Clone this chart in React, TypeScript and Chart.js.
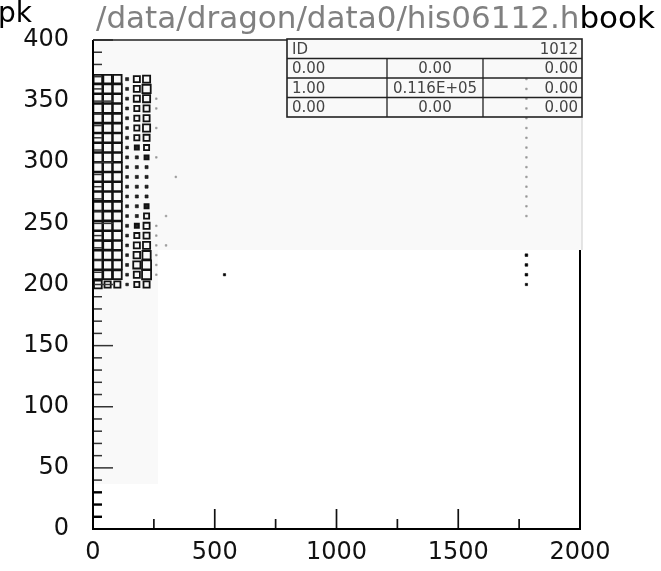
import React, { useEffect, useRef } from "react";
import { Chart, registerables } from "chart.js";

Chart.register(...registerables);

const FONT = '"DejaVu Sans", sans-serif';

// Histogram cells (x bin centres, y bin centres) and box contents
const rowCentersY = [368, 360, 352, 344, 336, 328, 320, 312, 304, 296, 288, 280, 272, 264, 256, 248, 240, 232, 224, 216, 208, 200];
const columnCentersX = [20, 60, 100, 140, 180, 220];
const col20 = [85, 95, 95, 95, 95, 95, 95, 95, 95, 95, 95, 95, 95, 95, 95, 95, 95, 95, 95, 95, 95, 70];
const col60 = [85, 95, 95, 95, 95, 95, 95, 95, 95, 95, 95, 95, 95, 95, 90, 95, 95, 90, 95, 95, 90, 45];
const col100 = [85, 95, 95, 95, 95, 95, 95, 95, 95, 95, 95, 95, 95, 95, 95, 95, 95, 95, 95, 95, 90, 45];
const col140 = [11, 10, 10, 10, 10, 9, 10, 9, 10, 9, 9, 10, 9, 10, 9, 10, 9, 9, 9, 10, 9, 8];
const col180 = [44, 44, 44, 31, 31, 31, 31, 20, 11, 11, 11, 11, 11, 11, 11, 20, 31, 44, 50, 60, 44, 31];
const col220 = [60, 80, 60, 44, 44, 60, 44, 31, 20, 11, 11, 11, 11, 20, 31, 44, 44, 60, 80, 95, 95, 44];
const columnContents = [col20, col60, col100, col140, col180, col220];

// sparse faint cells
const faintX = [260, 260, 260, 260, 260, 260, 260, 260, 260, 260, 300, 340, 300,
  1780, 1780, 1780, 1780, 1780, 1780, 1780, 1780, 1780, 1780, 1780, 1780, 1780, 1780, 1780];
const faintY = [352, 344, 328, 304, 248, 240, 232, 224, 216, 208, 256, 288, 232,
  368, 360, 352, 344, 336, 328, 320, 312, 304, 296, 288, 280, 272, 264, 256];
const faintC = [3, 3, 3, 3, 3, 3, 3, 3, 3, 3, 3, 3, 3,
  3, 3, 3, 3, 3, 3, 3, 3, 3, 3, 3, 3, 3, 3, 3];

// sparse dark cells
const darkX = [540, 1780, 1780, 1780, 1780];
const darkY = [208, 224, 216, 208, 200];
const darkC = [6, 8, 8, 8, 6];

const xMin = 0, xMax = 2000, xStep = 500, xMinorStep = 250;
const yMin = 0, yMax = 400, yStep = 50, yMinorStep = 10;
const binWidthX = 40;
const maxContent = 100;

const titleGray = "/data/dragon/data0/his06112.h";
const titleBlack = "book";
const cornerText = "pk";
const statsHeader = ["ID", "1012"];
const statsRows = [
  ["0.00", "0.00", "0.00"],
  ["1.00", "0.116E+05", "0.00"],
  ["0.00", "0.00", "0.00"],
];

function sideFor(ctx: any): number {
  const raw = ctx.raw;
  if (!raw) return 3;
  const xs = ctx.chart.scales.x;
  const cell = Math.abs(xs.getPixelForValue(binWidthX) - xs.getPixelForValue(0));
  return cell * 0.95 * Math.sqrt(raw.c / maxContent);
}

const framePlugin = {
  id: "frame",
  beforeDatasetsDraw(chart: any) {
    const { ctx, chartArea: a } = chart;
    ctx.save();
    ctx.fillStyle = "#f9f9f9";
    ctx.fillRect(a.left, a.top, a.right + 2 - a.left, 250 - a.top);
    ctx.fillRect(a.left, 250, 158 - a.left, 484 - 250);
    ctx.restore();
  },
  afterDatasetsDraw(chart: any) {
    const { ctx, chartArea: a, scales } = chart;
    const xs = scales.x, ys = scales.y;
    ctx.save();
    ctx.lineCap = "butt";
    // y ticks
    for (let v = yMin + yMinorStep; v <= yMax; v += yMinorStep) {
      const py = ys.getPixelForValue(v);
      const major = v % yStep === 0;
      ctx.lineWidth = v <= 30 ? 2.4 : 1.5;
      ctx.strokeStyle = v <= 30 ? "#000" : "#333";
      ctx.beginPath();
      ctx.moveTo(a.left, py);
      ctx.lineTo(a.left + (major ? 20 : 9), py);
      ctx.stroke();
    }
    // x ticks
    ctx.strokeStyle = "#111";
    ctx.lineWidth = 1.7;
    for (let v = xMin + xMinorStep; v < xMax; v += xMinorStep) {
      const px = xs.getPixelForValue(v);
      const major = v % xStep === 0;
      ctx.beginPath();
      ctx.moveTo(px, a.bottom);
      ctx.lineTo(px, a.bottom - (major ? 20 : 10));
      ctx.stroke();
    }
    // axes / frame
    ctx.strokeStyle = "#000";
    ctx.lineWidth = 2;
    ctx.beginPath();
    ctx.moveTo(a.left, a.top);
    ctx.lineTo(a.left, a.bottom);
    ctx.lineTo(a.right, a.bottom);
    ctx.lineTo(a.right, 250);
    ctx.stroke();
    ctx.lineWidth = 1.5;
    ctx.strokeStyle = "#222";
    ctx.beginPath();
    ctx.moveTo(a.left, a.top);
    ctx.lineTo(287, a.top);
    ctx.stroke();
    ctx.strokeStyle = "#ccc";
    ctx.lineWidth = 1;
    ctx.beginPath();
    ctx.moveTo(a.right + 2, 117);
    ctx.lineTo(a.right + 2, 250);
    ctx.stroke();

    // stats table
    const tL = 287, tR = 582, tT = a.top - 1;
    const rowH = 19.5;
    const tB = tT + rowH * 4;
    ctx.strokeStyle = "#222";
    ctx.lineWidth = 1.6;
    ctx.strokeRect(tL, tT, tR - tL, tB - tT);
    ctx.lineWidth = 1.3;
    for (let i = 1; i < 4; i++) {
      ctx.beginPath();
      ctx.moveTo(tL, tT + rowH * i);
      ctx.lineTo(tR, tT + rowH * i);
      ctx.stroke();
    }
    const c1 = 387, c2 = 483;
    ctx.beginPath();
    ctx.moveTo(c1, tT + rowH);
    ctx.lineTo(c1, tB);
    ctx.moveTo(c2, tT + rowH);
    ctx.lineTo(c2, tB);
    ctx.stroke();
    ctx.fillStyle = "#444";
    ctx.font = `15px ${FONT}`;
    ctx.textBaseline = "middle";
    ctx.textAlign = "left";
    ctx.fillText(statsHeader[0], tL + 5, tT + rowH / 2 + 1);
    ctx.textAlign = "right";
    ctx.fillText(statsHeader[1], tR - 4, tT + rowH / 2 + 1);
    statsRows.forEach((row, i) => {
      const cy = tT + rowH * (i + 1.5) + 1;
      ctx.textAlign = "left";
      ctx.fillText(row[0], tL + 5, cy);
      ctx.textAlign = "center";
      ctx.fillText(row[1], (c1 + c2) / 2, cy);
      ctx.textAlign = "right";
      ctx.fillText(row[2], tR - 4, cy);
    });

    // title
    ctx.textAlign = "left";
    ctx.textBaseline = "alphabetic";
    ctx.font = `31px ${FONT}`;
    ctx.fillStyle = "#808080";
    ctx.fillText(titleGray, 96, 28);
    const w = ctx.measureText(titleGray).width;
    ctx.fillStyle = "#000";
    ctx.fillText(titleBlack, 96 + w, 28);
    ctx.font = `28px ${FONT}`;
    ctx.fillText(cornerText, -2, 22);
    ctx.restore();
  },
};

function buildBoxes() {
  const pts: any[] = [];
  columnCentersX.forEach((x, i) => {
    rowCentersY.forEach((y, r) => {
      pts.push({ x, y, c: columnContents[i][r] });
    });
  });
  return pts;
}

function buildSparse(xs: number[], ys: number[], cs: number[]) {
  return xs.map((x, i) => ({ x, y: ys[i], c: cs[i] }));
}

export default function App() {
  const ref = useRef<HTMLCanvasElement | null>(null);
  useEffect(() => {
    if (!ref.current) return;
    const pointOpts = (border: string, fill: string, bw: number) => ({
      pointStyle: "rect",
      radius: (ctx: any) => sideFor(ctx) / Math.SQRT2,
      borderWidth: (ctx: any) => (sideFor(ctx) < 4 ? 0.6 : bw),
      borderColor: border,
      backgroundColor: (ctx: any) => (sideFor(ctx) < 4.5 ? fill : "rgba(0,0,0,0)"),
    });
    const chart = new Chart(ref.current, {
      type: "scatter",
      data: {
        datasets: [
          { label: "boxes", data: buildBoxes(), ...pointOpts("#111", "#222", 1.8) } as any,
          { label: "faint", data: buildSparse(faintX, faintY, faintC), ...pointOpts("#999", "#999", 1) } as any,
          { label: "dark", data: buildSparse(darkX, darkY, darkC), ...pointOpts("#000", "#000", 1) } as any,
        ],
      },
      options: {
        responsive: false,
        animation: false,
        events: [],
        layout: { padding: { top: 40, right: 81, left: 0, bottom: 0 } },
        plugins: { legend: { display: false }, tooltip: { enabled: false } },
        scales: {
          x: {
            type: "linear",
            min: xMin,
            max: xMax,
            afterFit: (s: any) => { s.height = 42; },
            grid: { display: false },
            border: { display: false },
            ticks: {
              stepSize: xStep, color: "#111", font: { family: FONT, size: 24 }, padding: 1,
              maxRotation: 0, autoSkip: false, callback: (v: any) => String(v),
            },
          },
          y: {
            type: "linear",
            min: yMin,
            max: yMax,
            afterFit: (s: any) => { s.width = 93; },
            grid: { display: false },
            border: { display: false },
            ticks: {
              stepSize: yStep, color: "#111", font: { family: FONT, size: 24 }, padding: 16,
              callback: (v: any) => String(v),
            },
          },
        },
      } as any,
      plugins: [framePlugin],
    });
    return () => chart.destroy();
  }, []);
  return (
    <div style={{ position: "absolute", left: 0, top: 0, width: 661, height: 571, background: "#fff" }}>
      <canvas ref={ref} width={661} height={571} style={{ display: "block" }} />
    </div>
  );
}
